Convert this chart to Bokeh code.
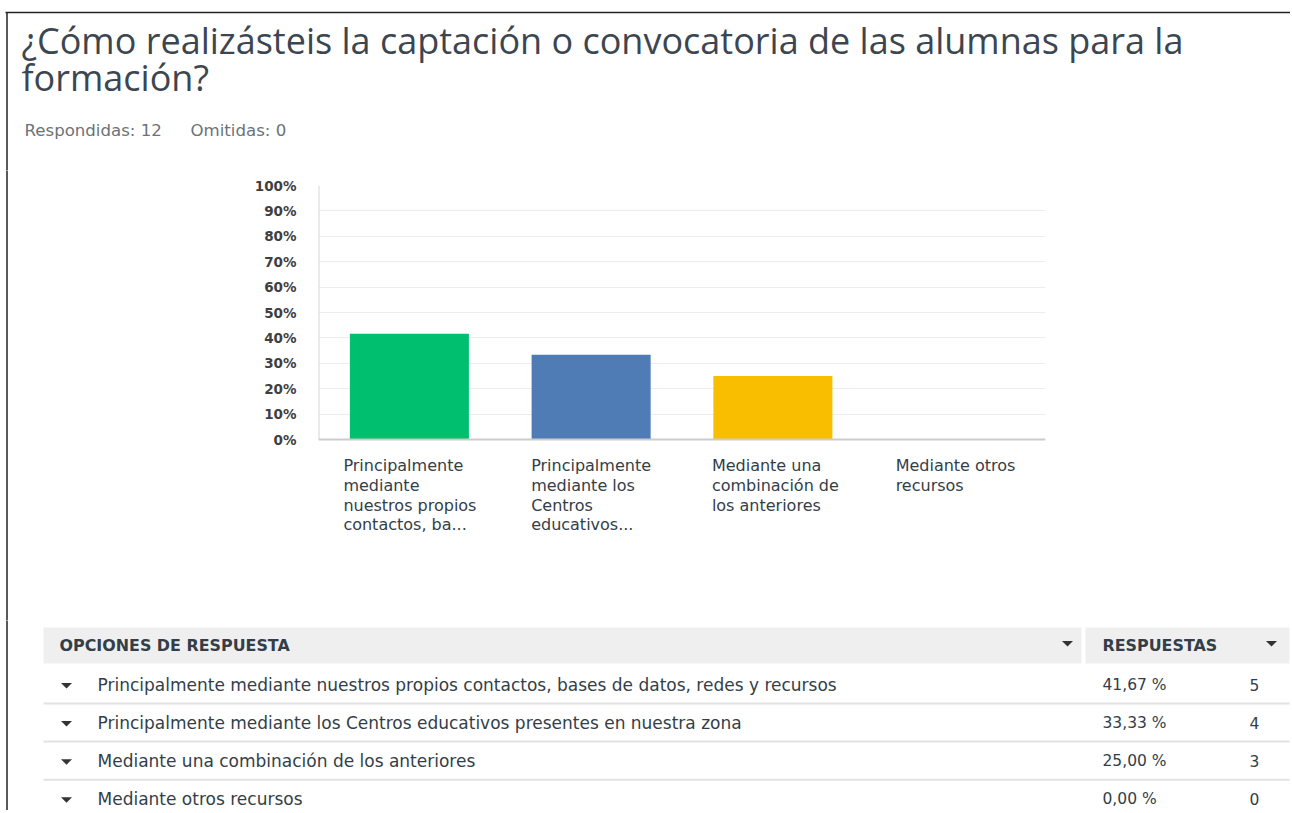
from bokeh.plotting import figure
from bokeh.layouts import column, row
from bokeh.models import Range1d, FactorRange, FixedTicker, PrintfTickFormatter, Span
from bokeh.core.properties import value
from bokeh.embed import file_html
from bokeh.resources import INLINE

# ---------------- data ----------------
title_lines = ["¿Cómo realizásteis la captación o convocatoria de las alumnas para la",
               "formación?"]
answered = 12
skipped = 0
categories = [
    "Principalmente mediante nuestros propios contactos, bases de datos, redes y recursos",
    "Principalmente mediante los Centros educativos presentes en nuestra zona",
    "Mediante una combinación de los anteriores",
    "Mediante otros recursos",
]
axis_labels = [
    "Principalmente\nmediante\nnuestros propios\ncontactos, ba...",
    "Principalmente\nmediante los\nCentros\neducativos...",
    "Mediante una\ncombinación de\nlos anteriores",
    "Mediante otros\nrecursos",
]
percents = [41.67, 33.33, 25.00, 0.00]
counts = [5, 4, 3, 0]
y_ticks = [0, 10, 20, 30, 40, 50, 60, 70, 80, 90, 100]
bar_colors = ["#00BF6F", "#507CB6", "#F9BE00", "#6BC8CD"]

# ---------------- styles / layout ----------------
W = 1290
TFONT = "Open Sans"
FONT = "DejaVu Sans"
TXT = "#333e48"
BORDER = "#222222"
label_dx = [-66, -60, -61, -59]


def blank(w, h):
    p = figure(width=w, height=h, x_range=Range1d(0, w), y_range=Range1d(h, 0),
               output_backend="svg", toolbar_location=None, min_border=0,
               x_axis_location=None, y_axis_location=None)
    p.grid.visible = False
    p.outline_line_color = None
    p.background_fill_color = "white"
    p.border_fill_color = "white"
    p.frame_align = False
    return p


# ---------------- header ----------------
HH = 170
hdr = blank(W, HH)
hdr.segment(x0=[5], y0=[12], x1=[W + 5], y1=[12], line_color=BORDER, line_width=1.5)
hdr.segment(x0=[6.5], y0=[12], x1=[6.5], y1=[HH + 5], line_color=BORDER, line_width=1.5)
hdr.text(x=[21, 21], y=[40, 77], text=title_lines, text_font=value(TFONT),
         text_font_size="36px", text_color="#3c4650", text_baseline="middle")
hdr.text(x=[24, 190], y=[130, 130],
         text=[f"Respondidas: {answered}", f"Omitidas: {skipped}"],
         text_font=value(FONT), text_font_size="16.6px", text_color="#6b7378",
         text_baseline="middle")

# ---------------- chart ----------------
CH = 450
SW = 10
strip = blank(SW, CH)
strip.segment(x0=[6.5], y0=[-5], x1=[6.5], y1=[CH + 5], line_color=BORDER, line_width=1.5)

top_border = 15
px_per_unit = 2.54
frame_h = CH - top_border
ystart = 100 - frame_h / px_per_unit

chart = figure(width=W - SW, height=CH, x_range=FactorRange(*categories, range_padding=0),
               y_range=Range1d(ystart, 100), output_backend="svg", toolbar_location=None,
               min_border_left=308, min_border_right=W - SW - 1035, min_border_top=top_border,
               min_border_bottom=0, x_axis_location=None)
chart.frame_align = False
chart.outline_line_color = None
chart.xgrid.visible = False
chart.ygrid.ticker = FixedTicker(ticks=y_ticks)
chart.ygrid.grid_line_color = "#ececec"
chart.ygrid.grid_line_width = 1
ya = chart.yaxis[0]
ya.ticker = FixedTicker(ticks=y_ticks)
ya.formatter = PrintfTickFormatter(format="%d%%")
ya.axis_line_color = None
ya.major_tick_line_color = None
ya.minor_tick_line_color = None
ya.major_label_standoff = 16
ya.major_label_text_font = "DejaVu Sans"
ya.major_label_text_font_style = "bold"
ya.major_label_text_font_size = "13.5px"
ya.major_label_text_color = "#3f3f3f"

chart.segment(x0=[0], y0=[0], x1=[0], y1=[100], line_color="#d6d6d6", line_width=2)
chart.add_layout(Span(location=0, dimension="width", line_color="#cccccc", line_width=2))
chart.vbar(x=categories, top=percents, width=0.655, color=bar_colors, line_color=None)
for c, lab, dx in zip(categories, axis_labels, label_dx):
    chart.text(x=[c], y=[-6.6], text=[lab], x_offset=dx, text_align="left",
               text_baseline="top", text_font=value(FONT), text_font_size="16px",
               text_color=TXT, text_line_height=1.035)

# ---------------- table ----------------
TH = 190
tab = blank(W, TH)
tab.segment(x0=[6.5], y0=[-5], x1=[6.5], y1=[TH + 5], line_color=BORDER, line_width=1.5)
tab.quad(left=[43, 1085], right=[1081, 1289], top=[7, 7], bottom=[43, 43],
         fill_color="#efefef", line_color=None)
tab.text(x=[59, 1102], y=[25, 25], text=["OPCIONES DE RESPUESTA", "RESPUESTAS"],
         text_font=value(FONT), text_font_style="bold", text_font_size="15.9px",
         text_color=TXT, text_baseline="middle")

row_y = [64 + 38.1 * i for i in range(len(categories))]
sep_y = [y + 19 for y in row_y[:-1]]
tab.segment(x0=[43] * len(sep_y), y0=sep_y, x1=[1289] * len(sep_y), y1=sep_y,
            line_color="#e2e2e2", line_width=2)

tri_x = [1067, 1271] + [66] * len(row_y)
tri_y = [23, 23] + [y + 1 for y in row_y]
tab.patches(xs=[[x - 5.5, x + 5.5, x] for x in tri_x],
            ys=[[y - 2.5, y - 2.5, y + 3] for y in tri_y],
            fill_color="#333333", line_color=None)

tab.text(x=[97] * len(row_y), y=row_y, text=categories, text_font=value(FONT),
         text_font_size="17px", text_color=TXT, text_baseline="middle")
tab.text(x=[1102] * len(row_y), y=row_y,
         text=[f"{v:.2f} %".replace(".", ",") for v in percents],
         text_font=value(FONT), text_font_size="15.5px", text_color=TXT,
         text_baseline="middle")
tab.text(x=[1254] * len(row_y), y=row_y, text=[str(c) for c in counts],
         text_font=value(FONT), text_font_size="15.5px", text_color=TXT,
         text_baseline="middle", text_align="center")

layout = column(hdr, row(strip, chart, spacing=0), tab, spacing=0)
open("out.html", "w").write(file_html(layout, INLINE))
